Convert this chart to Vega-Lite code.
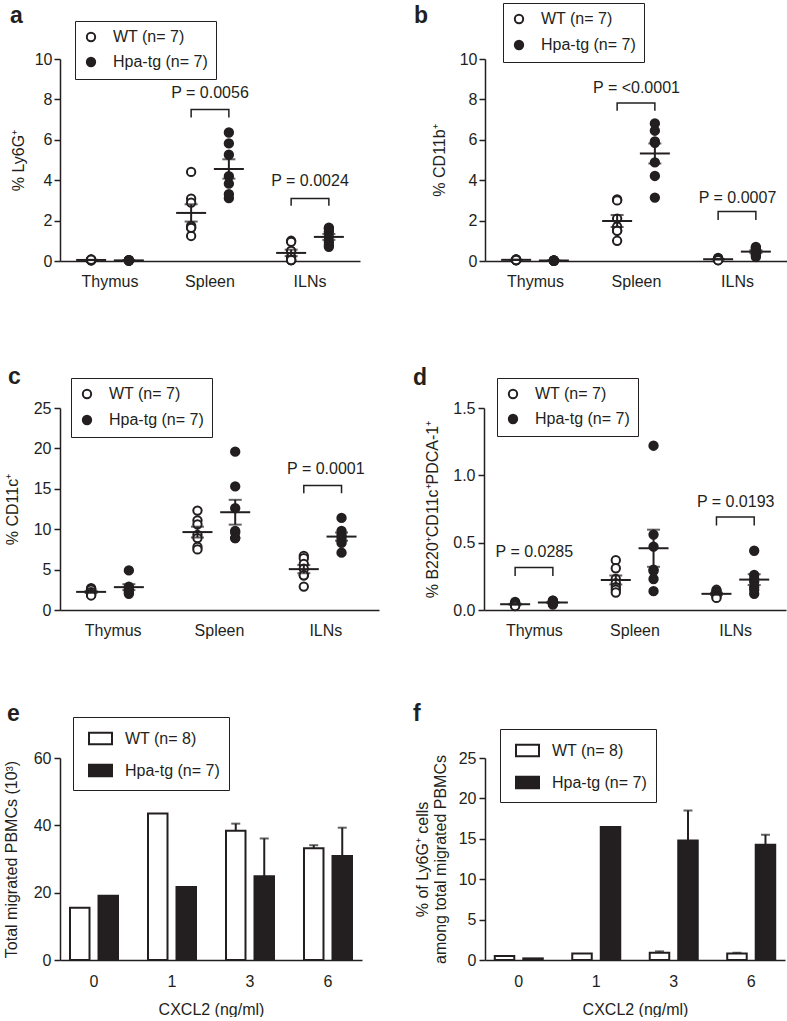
{
  "$schema": "https://vega.github.io/schema/vega-lite/v6.json",
  "background": "white",
  "padding": {"left": 3, "top": 2, "right": 0, "bottom": 0},
  "config": {
    "font": "Liberation Sans",
    "view": {"stroke": null},
    "axis": {"labelFont": "Liberation Sans", "titleFont": "Liberation Sans", "labelFontSize": 16, "titleFontSize": 16, "titleFontWeight": "normal", "labelColor": "#231f20", "titleColor": "#231f20", "domainColor": "#231f20", "tickColor": "#231f20", "domainWidth": 1.5, "tickWidth": 1.5, "grid": false},
    "axisX": {"ticks": false, "labelAngle": 0, "labelPadding": 12},
    "axisY": {"tickSize": 6, "labelPadding": 2},
    "legend": {"labelFont": "Liberation Sans", "labelFontSize": 16, "labelColor": "#231f20", "strokeColor": "#231f20", "symbolStrokeColor": "#231f20", "symbolStrokeWidth": 2, "title": null},
    "title": {"font": "Liberation Sans", "fontSize": 23, "fontWeight": "bold", "color": "#231f20", "anchor": "start", "frame": "group", "offset": 0},
    "text": {"font": "Liberation Sans"}
  },
  "datasets": {
    "a": [
      {"organ": "Thymus", "group": "WT", "value": 0.05}, {"organ": "Thymus", "group": "WT", "value": 0.06}, {"organ": "Thymus", "group": "WT", "value": 0.04}, {"organ": "Thymus", "group": "WT", "value": 0.07}, {"organ": "Thymus", "group": "WT", "value": 0.05}, {"organ": "Thymus", "group": "WT", "value": 0.03}, {"organ": "Thymus", "group": "WT", "value": 0.06},
      {"organ": "Thymus", "group": "Hpa-tg", "value": 0.03}, {"organ": "Thymus", "group": "Hpa-tg", "value": 0.04}, {"organ": "Thymus", "group": "Hpa-tg", "value": 0.02}, {"organ": "Thymus", "group": "Hpa-tg", "value": 0.03}, {"organ": "Thymus", "group": "Hpa-tg", "value": 0.04}, {"organ": "Thymus", "group": "Hpa-tg", "value": 0.03}, {"organ": "Thymus", "group": "Hpa-tg", "value": 0.02},
      {"organ": "Spleen", "group": "WT", "value": 4.41}, {"organ": "Spleen", "group": "WT", "value": 3.09}, {"organ": "Spleen", "group": "WT", "value": 2.89}, {"organ": "Spleen", "group": "WT", "value": 1.74}, {"organ": "Spleen", "group": "WT", "value": 1.65}, {"organ": "Spleen", "group": "WT", "value": 1.24}, {"organ": "Spleen", "group": "WT", "value": 1.64},
      {"organ": "Spleen", "group": "Hpa-tg", "value": 6.36}, {"organ": "Spleen", "group": "Hpa-tg", "value": 5.82}, {"organ": "Spleen", "group": "Hpa-tg", "value": 5.26}, {"organ": "Spleen", "group": "Hpa-tg", "value": 4.2}, {"organ": "Spleen", "group": "Hpa-tg", "value": 3.83}, {"organ": "Spleen", "group": "Hpa-tg", "value": 3.11}, {"organ": "Spleen", "group": "Hpa-tg", "value": 3.31},
      {"organ": "ILNs", "group": "WT", "value": 1.0}, {"organ": "ILNs", "group": "WT", "value": 0.95}, {"organ": "ILNs", "group": "WT", "value": 0.5}, {"organ": "ILNs", "group": "WT", "value": 0.2}, {"organ": "ILNs", "group": "WT", "value": 0.05}, {"organ": "ILNs", "group": "WT", "value": 0.05}, {"organ": "ILNs", "group": "WT", "value": 0.05},
      {"organ": "ILNs", "group": "Hpa-tg", "value": 1.65}, {"organ": "ILNs", "group": "Hpa-tg", "value": 1.6}, {"organ": "ILNs", "group": "Hpa-tg", "value": 1.45}, {"organ": "ILNs", "group": "Hpa-tg", "value": 1.2}, {"organ": "ILNs", "group": "Hpa-tg", "value": 0.95}, {"organ": "ILNs", "group": "Hpa-tg", "value": 0.8}, {"organ": "ILNs", "group": "Hpa-tg", "value": 0.7}
    ],
    "a_br": [
      {"organ": "Spleen", "group": "WT", "value": 7.1, "ord": 1}, {"organ": "Spleen", "group": "WT", "value": 7.5, "ord": 2}, {"organ": "Spleen", "group": "Hpa-tg", "value": 7.5, "ord": 3}, {"organ": "Spleen", "group": "Hpa-tg", "value": 7.1, "ord": 4},
      {"organ": "ILNs", "group": "WT", "value": 2.73, "ord": 1}, {"organ": "ILNs", "group": "WT", "value": 3.1, "ord": 2}, {"organ": "ILNs", "group": "Hpa-tg", "value": 3.1, "ord": 3}, {"organ": "ILNs", "group": "Hpa-tg", "value": 2.73, "ord": 4}
    ],
    "a_p": [{"organ": "Spleen", "value": 8.3, "label": "P = 0.0056"}, {"organ": "ILNs", "value": 3.97, "label": "P = 0.0024"}],
    "b": [
      {"organ": "Thymus", "group": "WT", "value": 0.06}, {"organ": "Thymus", "group": "WT", "value": 0.05}, {"organ": "Thymus", "group": "WT", "value": 0.08}, {"organ": "Thymus", "group": "WT", "value": 0.04}, {"organ": "Thymus", "group": "WT", "value": 0.05}, {"organ": "Thymus", "group": "WT", "value": 0.07}, {"organ": "Thymus", "group": "WT", "value": 0.05},
      {"organ": "Thymus", "group": "Hpa-tg", "value": 0.02}, {"organ": "Thymus", "group": "Hpa-tg", "value": 0.03}, {"organ": "Thymus", "group": "Hpa-tg", "value": 0.02}, {"organ": "Thymus", "group": "Hpa-tg", "value": 0.01}, {"organ": "Thymus", "group": "Hpa-tg", "value": 0.02}, {"organ": "Thymus", "group": "Hpa-tg", "value": 0.03}, {"organ": "Thymus", "group": "Hpa-tg", "value": 0.02},
      {"organ": "Spleen", "group": "WT", "value": 3.05}, {"organ": "Spleen", "group": "WT", "value": 3.0}, {"organ": "Spleen", "group": "WT", "value": 2.1}, {"organ": "Spleen", "group": "WT", "value": 1.7}, {"organ": "Spleen", "group": "WT", "value": 1.5}, {"organ": "Spleen", "group": "WT", "value": 1.5}, {"organ": "Spleen", "group": "WT", "value": 1.0},
      {"organ": "Spleen", "group": "Hpa-tg", "value": 6.81}, {"organ": "Spleen", "group": "Hpa-tg", "value": 6.45}, {"organ": "Spleen", "group": "Hpa-tg", "value": 5.92}, {"organ": "Spleen", "group": "Hpa-tg", "value": 5.85}, {"organ": "Spleen", "group": "Hpa-tg", "value": 4.88}, {"organ": "Spleen", "group": "Hpa-tg", "value": 4.21}, {"organ": "Spleen", "group": "Hpa-tg", "value": 3.14},
      {"organ": "ILNs", "group": "WT", "value": 0.15}, {"organ": "ILNs", "group": "WT", "value": 0.12}, {"organ": "ILNs", "group": "WT", "value": 0.1}, {"organ": "ILNs", "group": "WT", "value": 0.08}, {"organ": "ILNs", "group": "WT", "value": 0.07}, {"organ": "ILNs", "group": "WT", "value": 0.05}, {"organ": "ILNs", "group": "WT", "value": 0.04},
      {"organ": "ILNs", "group": "Hpa-tg", "value": 0.7}, {"organ": "ILNs", "group": "Hpa-tg", "value": 0.65}, {"organ": "ILNs", "group": "Hpa-tg", "value": 0.6}, {"organ": "ILNs", "group": "Hpa-tg", "value": 0.45}, {"organ": "ILNs", "group": "Hpa-tg", "value": 0.35}, {"organ": "ILNs", "group": "Hpa-tg", "value": 0.3}, {"organ": "ILNs", "group": "Hpa-tg", "value": 0.2}
    ],
    "b_br": [
      {"organ": "Spleen", "group": "WT", "value": 7.44, "ord": 1}, {"organ": "Spleen", "group": "WT", "value": 7.82, "ord": 2}, {"organ": "Spleen", "group": "Hpa-tg", "value": 7.82, "ord": 3}, {"organ": "Spleen", "group": "Hpa-tg", "value": 7.44, "ord": 4},
      {"organ": "ILNs", "group": "WT", "value": 2.03, "ord": 1}, {"organ": "ILNs", "group": "WT", "value": 2.45, "ord": 2}, {"organ": "ILNs", "group": "Hpa-tg", "value": 2.45, "ord": 3}, {"organ": "ILNs", "group": "Hpa-tg", "value": 2.03, "ord": 4}
    ],
    "b_p": [{"organ": "Spleen", "value": 8.56, "label": "P = <0.0001"}, {"organ": "ILNs", "value": 3.14, "label": "P = 0.0007"}],
    "c": [
      {"organ": "Thymus", "group": "WT", "value": 2.7}, {"organ": "Thymus", "group": "WT", "value": 2.6}, {"organ": "Thymus", "group": "WT", "value": 2.5}, {"organ": "Thymus", "group": "WT", "value": 2.2}, {"organ": "Thymus", "group": "WT", "value": 2.0}, {"organ": "Thymus", "group": "WT", "value": 1.9}, {"organ": "Thymus", "group": "WT", "value": 1.8},
      {"organ": "Thymus", "group": "Hpa-tg", "value": 4.9}, {"organ": "Thymus", "group": "Hpa-tg", "value": 2.9}, {"organ": "Thymus", "group": "Hpa-tg", "value": 2.8}, {"organ": "Thymus", "group": "Hpa-tg", "value": 2.6}, {"organ": "Thymus", "group": "Hpa-tg", "value": 2.4}, {"organ": "Thymus", "group": "Hpa-tg", "value": 2.2}, {"organ": "Thymus", "group": "Hpa-tg", "value": 2.0},
      {"organ": "Spleen", "group": "WT", "value": 12.3}, {"organ": "Spleen", "group": "WT", "value": 11.1}, {"organ": "Spleen", "group": "WT", "value": 10.6}, {"organ": "Spleen", "group": "WT", "value": 9.3}, {"organ": "Spleen", "group": "WT", "value": 8.9}, {"organ": "Spleen", "group": "WT", "value": 7.8}, {"organ": "Spleen", "group": "WT", "value": 7.5},
      {"organ": "Spleen", "group": "Hpa-tg", "value": 19.6}, {"organ": "Spleen", "group": "Hpa-tg", "value": 15.3}, {"organ": "Spleen", "group": "Hpa-tg", "value": 12.6}, {"organ": "Spleen", "group": "Hpa-tg", "value": 9.8}, {"organ": "Spleen", "group": "Hpa-tg", "value": 9.6}, {"organ": "Spleen", "group": "Hpa-tg", "value": 8.9}, {"organ": "Spleen", "group": "Hpa-tg", "value": 8.9},
      {"organ": "ILNs", "group": "WT", "value": 6.7}, {"organ": "ILNs", "group": "WT", "value": 6.4}, {"organ": "ILNs", "group": "WT", "value": 5.7}, {"organ": "ILNs", "group": "WT", "value": 5.1}, {"organ": "ILNs", "group": "WT", "value": 4.3}, {"organ": "ILNs", "group": "WT", "value": 4.3}, {"organ": "ILNs", "group": "WT", "value": 2.9},
      {"organ": "ILNs", "group": "Hpa-tg", "value": 11.4}, {"organ": "ILNs", "group": "Hpa-tg", "value": 9.8}, {"organ": "ILNs", "group": "Hpa-tg", "value": 9.4}, {"organ": "ILNs", "group": "Hpa-tg", "value": 9.0}, {"organ": "ILNs", "group": "Hpa-tg", "value": 8.6}, {"organ": "ILNs", "group": "Hpa-tg", "value": 8.3}, {"organ": "ILNs", "group": "Hpa-tg", "value": 7.1}
    ],
    "c_br": [
      {"organ": "ILNs", "group": "WT", "value": 14.46, "ord": 1}, {"organ": "ILNs", "group": "WT", "value": 15.4, "ord": 2}, {"organ": "ILNs", "group": "Hpa-tg", "value": 15.4, "ord": 3}, {"organ": "ILNs", "group": "Hpa-tg", "value": 14.46, "ord": 4}
    ],
    "c_p": [{"organ": "ILNs", "value": 17.5, "label": "P = 0.0001"}],
    "d": [
      {"organ": "Thymus", "group": "WT", "value": 0.06}, {"organ": "Thymus", "group": "WT", "value": 0.05}, {"organ": "Thymus", "group": "WT", "value": 0.05}, {"organ": "Thymus", "group": "WT", "value": 0.04}, {"organ": "Thymus", "group": "WT", "value": 0.04}, {"organ": "Thymus", "group": "WT", "value": 0.03}, {"organ": "Thymus", "group": "WT", "value": 0.03},
      {"organ": "Thymus", "group": "Hpa-tg", "value": 0.07}, {"organ": "Thymus", "group": "Hpa-tg", "value": 0.07}, {"organ": "Thymus", "group": "Hpa-tg", "value": 0.06}, {"organ": "Thymus", "group": "Hpa-tg", "value": 0.05}, {"organ": "Thymus", "group": "Hpa-tg", "value": 0.05}, {"organ": "Thymus", "group": "Hpa-tg", "value": 0.05}, {"organ": "Thymus", "group": "Hpa-tg", "value": 0.04},
      {"organ": "Spleen", "group": "WT", "value": 0.37}, {"organ": "Spleen", "group": "WT", "value": 0.31}, {"organ": "Spleen", "group": "WT", "value": 0.23}, {"organ": "Spleen", "group": "WT", "value": 0.2}, {"organ": "Spleen", "group": "WT", "value": 0.17}, {"organ": "Spleen", "group": "WT", "value": 0.15}, {"organ": "Spleen", "group": "WT", "value": 0.13},
      {"organ": "Spleen", "group": "Hpa-tg", "value": 1.22}, {"organ": "Spleen", "group": "Hpa-tg", "value": 0.56}, {"organ": "Spleen", "group": "Hpa-tg", "value": 0.47}, {"organ": "Spleen", "group": "Hpa-tg", "value": 0.3}, {"organ": "Spleen", "group": "Hpa-tg", "value": 0.29}, {"organ": "Spleen", "group": "Hpa-tg", "value": 0.23}, {"organ": "Spleen", "group": "Hpa-tg", "value": 0.14},
      {"organ": "ILNs", "group": "WT", "value": 0.15}, {"organ": "ILNs", "group": "WT", "value": 0.14}, {"organ": "ILNs", "group": "WT", "value": 0.13}, {"organ": "ILNs", "group": "WT", "value": 0.12}, {"organ": "ILNs", "group": "WT", "value": 0.11}, {"organ": "ILNs", "group": "WT", "value": 0.1}, {"organ": "ILNs", "group": "WT", "value": 0.09},
      {"organ": "ILNs", "group": "Hpa-tg", "value": 0.44}, {"organ": "ILNs", "group": "Hpa-tg", "value": 0.26}, {"organ": "ILNs", "group": "Hpa-tg", "value": 0.23}, {"organ": "ILNs", "group": "Hpa-tg", "value": 0.21}, {"organ": "ILNs", "group": "Hpa-tg", "value": 0.17}, {"organ": "ILNs", "group": "Hpa-tg", "value": 0.15}, {"organ": "ILNs", "group": "Hpa-tg", "value": 0.12}
    ],
    "d_br": [
      {"organ": "Thymus", "group": "WT", "value": 0.253, "ord": 1}, {"organ": "Thymus", "group": "WT", "value": 0.315, "ord": 2}, {"organ": "Thymus", "group": "Hpa-tg", "value": 0.315, "ord": 3}, {"organ": "Thymus", "group": "Hpa-tg", "value": 0.253, "ord": 4},
      {"organ": "ILNs", "group": "WT", "value": 0.627, "ord": 1}, {"organ": "ILNs", "group": "WT", "value": 0.69, "ord": 2}, {"organ": "ILNs", "group": "Hpa-tg", "value": 0.69, "ord": 3}, {"organ": "ILNs", "group": "Hpa-tg", "value": 0.627, "ord": 4}
    ],
    "d_p": [{"organ": "Thymus", "value": 0.43, "label": "P = 0.0285"}, {"organ": "ILNs", "value": 0.8, "label": "P = 0.0193"}],
    "e": [
      {"conc": "0", "group": "WT", "value": 15.5}, {"conc": "0", "group": "Hpa-tg", "value": 19.1},
      {"conc": "1", "group": "WT", "value": 43.5}, {"conc": "1", "group": "Hpa-tg", "value": 21.7},
      {"conc": "3", "group": "WT", "value": 38.4, "upper": 40.5}, {"conc": "3", "group": "Hpa-tg", "value": 24.9, "upper": 36.1},
      {"conc": "6", "group": "WT", "value": 33.2, "upper": 34.1}, {"conc": "6", "group": "Hpa-tg", "value": 30.9, "upper": 39.3}
    ],
    "f": [
      {"conc": "0", "group": "WT", "value": 0.5}, {"conc": "0", "group": "Hpa-tg", "value": 0.2},
      {"conc": "1", "group": "WT", "value": 0.8}, {"conc": "1", "group": "Hpa-tg", "value": 16.45},
      {"conc": "3", "group": "WT", "value": 0.9, "upper": 1.07}, {"conc": "3", "group": "Hpa-tg", "value": 14.8, "upper": 18.5},
      {"conc": "6", "group": "WT", "value": 0.8, "upper": 0.9}, {"conc": "6", "group": "Hpa-tg", "value": 14.26, "upper": 15.5}
    ]
  },
  "spacing": 64,
  "resolve": {"scale": {"fill": "independent"}, "legend": {"fill": "independent"}},
  "vconcat": [
    {
      "spacing": 76,
      "resolve": {"scale": {"fill": "independent"}, "legend": {"fill": "independent"}},
      "vconcat": [
        {
          "hconcat": [
            {
              "width": 300, "height": 202,
              "title": {"text": "a", "dx": -50, "dy": 11},
              "data": {"name": "a"},
              "encoding": {
                "x": {"field": "organ", "type": "nominal", "sort": ["Thymus", "Spleen", "ILNs"], "scale": {"paddingInner": 0, "paddingOuter": 0}, "axis": {"title": null}},
                "y": {"field": "value", "type": "quantitative", "title": "% Ly6G⁺", "scale": {"domain": [0, 10], "nice": false}, "axis": {"values": [0, 2, 4, 6, 8, 10], "titlePadding": 8}}
              },
              "layer": [
                {"mark": {"type": "point", "shape": "circle", "size": 70, "strokeWidth": 2, "stroke": "#231f20", "filled": true, "opacity": 1},
                 "encoding": {"xOffset": {"field": "group", "type": "nominal", "scale": {"domain": ["WT", "Hpa-tg"], "paddingInner": 0.65, "paddingOuter": 0.65}},
                  "fill": {"field": "group", "type": "nominal", "scale": {"domain": ["WT", "Hpa-tg"], "range": ["white", "#231f20"]}, "legend": {"orient": "none", "legendX": 15, "legendY": -38, "padding": 8, "rowPadding": 7, "labelOffset": 14, "symbolSize": 70, "symbolType": "circle", "labelExpr": "datum.label == 'WT' ? 'WT (n= 7)' : 'Hpa-tg (n= 7)'"}}}},
                {"mark": {"type": "errorbar", "extent": "stderr", "ticks": true, "size": 13, "thickness": 2, "color": "#231f20"},
                 "encoding": {"xOffset": {"field": "group", "type": "nominal"}}},
                {"mark": {"type": "tick", "size": 30, "thickness": 2, "color": "#231f20", "orient": "horizontal"},
                 "encoding": {"xOffset": {"field": "group", "type": "nominal"}, "y": {"aggregate": "mean", "field": "value", "type": "quantitative", "title": "% Ly6G⁺"}}},
                {"data": {"name": "a_br"}, "mark": {"type": "line", "color": "#231f20", "strokeWidth": 1.5},
                 "encoding": {"xOffset": {"field": "group", "type": "nominal"}, "order": {"field": "ord", "type": "quantitative"}, "detail": {"field": "organ", "type": "nominal"}}},
                {"data": {"name": "a_p"}, "mark": {"type": "text", "fontSize": 16, "color": "#231f20", "baseline": "middle", "align": "center"},
                 "encoding": {"text": {"field": "label", "type": "nominal"}}}
              ]
            },
            {
              "width": 303, "height": 202,
              "title": {"text": "b", "dx": -71, "dy": 29},
              "data": {"name": "b"},
              "encoding": {
                "x": {"field": "organ", "type": "nominal", "sort": ["Thymus", "Spleen", "ILNs"], "scale": {"paddingInner": 0, "paddingOuter": 0}, "axis": {"title": null}},
                "y": {"field": "value", "type": "quantitative", "title": "% CD11b⁺", "scale": {"domain": [0, 10], "nice": false}, "axis": {"values": [0, 2, 4, 6, 8, 10], "titlePadding": 12}}
              },
              "layer": [
                {"mark": {"type": "point", "shape": "circle", "size": 70, "strokeWidth": 2, "stroke": "#231f20", "filled": true, "opacity": 1},
                 "encoding": {"xOffset": {"field": "group", "type": "nominal", "scale": {"domain": ["WT", "Hpa-tg"], "paddingInner": 0.65, "paddingOuter": 0.65}},
                  "fill": {"field": "group", "type": "nominal", "scale": {"domain": ["WT", "Hpa-tg"], "range": ["white", "#231f20"]}, "legend": {"orient": "none", "legendX": 18, "legendY": -56, "padding": 8, "rowPadding": 8, "labelOffset": 14, "symbolSize": 70, "symbolType": "circle", "labelExpr": "datum.label == 'WT' ? 'WT (n= 7)' : 'Hpa-tg (n= 7)'"}}}},
                {"mark": {"type": "errorbar", "extent": "stderr", "ticks": true, "size": 13, "thickness": 2, "color": "#231f20"},
                 "encoding": {"xOffset": {"field": "group", "type": "nominal"}}},
                {"mark": {"type": "tick", "size": 30, "thickness": 2, "color": "#231f20", "orient": "horizontal"},
                 "encoding": {"xOffset": {"field": "group", "type": "nominal"}, "y": {"aggregate": "mean", "field": "value", "type": "quantitative", "title": "% CD11b⁺"}}},
                {"data": {"name": "b_br"}, "mark": {"type": "line", "color": "#231f20", "strokeWidth": 1.5},
                 "encoding": {"xOffset": {"field": "group", "type": "nominal"}, "order": {"field": "ord", "type": "quantitative"}, "detail": {"field": "organ", "type": "nominal"}}},
                {"data": {"name": "b_p"}, "mark": {"type": "text", "fontSize": 16, "color": "#231f20", "baseline": "middle", "align": "center"},
                 "encoding": {"text": {"field": "label", "type": "nominal"}}}
              ]
            }
          ],
          "spacing": 125, "bounds": "flush",
          "resolve": {"scale": {"fill": "independent"}, "legend": {"fill": "independent"}}
        },
        {
          "hconcat": [
            {
              "width": 319, "height": 202,
              "title": {"text": "c", "dx": -52, "dy": 15},
              "data": {"name": "c"},
              "encoding": {
                "x": {"field": "organ", "type": "nominal", "sort": ["Thymus", "Spleen", "ILNs"], "scale": {"paddingInner": 0, "paddingOuter": 0}, "axis": {"title": null}},
                "y": {"field": "value", "type": "quantitative", "title": "% CD11c⁺", "scale": {"domain": [0, 25], "nice": false}, "axis": {"values": [0, 5, 10, 15, 20, 25], "titlePadding": 13, "labelPadding": 3}}
              },
              "layer": [
                {"mark": {"type": "point", "shape": "circle", "size": 70, "strokeWidth": 2, "stroke": "#231f20", "filled": true, "opacity": 1},
                 "encoding": {"xOffset": {"field": "group", "type": "nominal", "scale": {"domain": ["WT", "Hpa-tg"], "paddingInner": 0.65, "paddingOuter": 0.65}},
                  "fill": {"field": "group", "type": "nominal", "scale": {"domain": ["WT", "Hpa-tg"], "range": ["white", "#231f20"]}, "legend": {"orient": "none", "legendX": 11, "legendY": -30, "padding": 8, "rowPadding": 8, "labelOffset": 14, "symbolSize": 70, "symbolType": "circle", "labelExpr": "datum.label == 'WT' ? 'WT (n= 7)' : 'Hpa-tg (n= 7)'"}}}},
                {"mark": {"type": "errorbar", "extent": "stderr", "ticks": true, "size": 13, "thickness": 2, "color": "#231f20"},
                 "encoding": {"xOffset": {"field": "group", "type": "nominal"}}},
                {"mark": {"type": "tick", "size": 30, "thickness": 2, "color": "#231f20", "orient": "horizontal"},
                 "encoding": {"xOffset": {"field": "group", "type": "nominal"}, "y": {"aggregate": "mean", "field": "value", "type": "quantitative", "title": "% CD11c⁺"}}},
                {"data": {"name": "c_br"}, "mark": {"type": "line", "color": "#231f20", "strokeWidth": 1.5},
                 "encoding": {"xOffset": {"field": "group", "type": "nominal"}, "order": {"field": "ord", "type": "quantitative"}, "detail": {"field": "organ", "type": "nominal"}}},
                {"data": {"name": "c_p"}, "mark": {"type": "text", "fontSize": 16, "color": "#231f20", "baseline": "middle", "align": "center"},
                 "encoding": {"text": {"field": "label", "type": "nominal"}}}
              ]
            },
            {
              "width": 302, "height": 202,
              "title": {"text": "d", "dx": -71, "dy": 16},
              "data": {"name": "d"},
              "encoding": {
                "x": {"field": "organ", "type": "nominal", "sort": ["Thymus", "Spleen", "ILNs"], "scale": {"paddingInner": 0, "paddingOuter": 0}, "axis": {"title": null}},
                "y": {"field": "value", "type": "quantitative", "title": "% B220⁺CD11c⁺PDCA-1⁺", "scale": {"domain": [0, 1.5], "nice": false}, "axis": {"values": [0, 0.5, 1, 1.5], "format": ".1f", "titlePadding": 12, "labelPadding": 3}}
              },
              "layer": [
                {"mark": {"type": "point", "shape": "circle", "size": 70, "strokeWidth": 2, "stroke": "#231f20", "filled": true, "opacity": 1},
                 "encoding": {"xOffset": {"field": "group", "type": "nominal", "scale": {"domain": ["WT", "Hpa-tg"], "paddingInner": 0.65, "paddingOuter": 0.65}},
                  "fill": {"field": "group", "type": "nominal", "scale": {"domain": ["WT", "Hpa-tg"], "range": ["white", "#231f20"]}, "legend": {"orient": "none", "legendX": 13, "legendY": -30, "padding": 8, "rowPadding": 7, "labelOffset": 14, "symbolSize": 70, "symbolType": "circle", "labelExpr": "datum.label == 'WT' ? 'WT (n= 7)' : 'Hpa-tg (n= 7)'"}}}},
                {"mark": {"type": "errorbar", "extent": "stderr", "ticks": true, "size": 13, "thickness": 2, "color": "#231f20"},
                 "encoding": {"xOffset": {"field": "group", "type": "nominal"}}},
                {"mark": {"type": "tick", "size": 30, "thickness": 2, "color": "#231f20", "orient": "horizontal"},
                 "encoding": {"xOffset": {"field": "group", "type": "nominal"}, "y": {"aggregate": "mean", "field": "value", "type": "quantitative", "title": "% B220⁺CD11c⁺PDCA-1⁺"}}},
                {"data": {"name": "d_br"}, "mark": {"type": "line", "color": "#231f20", "strokeWidth": 1.5},
                 "encoding": {"xOffset": {"field": "group", "type": "nominal"}, "order": {"field": "ord", "type": "quantitative"}, "detail": {"field": "organ", "type": "nominal"}}},
                {"data": {"name": "d_p"}, "mark": {"type": "text", "fontSize": 16, "color": "#231f20", "baseline": "middle", "align": "center"},
                 "encoding": {"text": {"field": "label", "type": "nominal"}}}
              ]
            }
          ],
          "spacing": 105, "bounds": "flush",
          "resolve": {"scale": {"fill": "independent"}, "legend": {"fill": "independent"}}
        }
      ]
    },
    {
      "hconcat": [
        {
          "width": 302, "height": 202,
          "title": {"text": "e", "dx": -53, "dy": 13},
          "data": {"name": "e"},
          "encoding": {
            "x": {"field": "conc", "type": "nominal", "sort": ["0", "1", "3", "6"], "scale": {"paddingInner": 0.2, "paddingOuter": 0.036}, "axis": {"title": "CXCL2 (ng/ml)", "labelPadding": 13, "titlePadding": 12}},
            "y": {"field": "value", "type": "quantitative", "title": "Total migrated PBMCs (10³)", "scale": {"domain": [0, 60], "nice": false}, "axis": {"values": [0, 20, 40, 60], "titlePadding": 14, "labelPadding": 3}}
          },
          "layer": [
            {"transform": [{"filter": "datum.group == 'WT'"}],
             "mark": {"type": "bar", "stroke": "#231f20", "strokeWidth": 2, "width": 19.5, "xOffset": -14.25},
             "encoding": {"fill": {"field": "group", "type": "nominal", "scale": {"domain": ["WT", "Hpa-tg"], "range": ["white", "#231f20"]}, "legend": {"orient": "none", "legendX": 13, "legendY": -41, "padding": 9, "rowPadding": 9, "labelOffset": 12, "symbolOffset": 6, "symbolSize": 529, "symbolType": "M-1,-0.5H1V0.5H-1Z", "labelExpr": "datum.label == 'WT' ? 'WT (n= 8)' : 'Hpa-tg (n= 7)'"}}}},
            {"transform": [{"filter": "datum.group == 'Hpa-tg'"}],
             "mark": {"type": "bar", "stroke": "#231f20", "strokeWidth": 2, "width": 19.5, "xOffset": 14.25},
             "encoding": {"fill": {"field": "group", "type": "nominal", "scale": {"domain": ["WT", "Hpa-tg"], "range": ["white", "#231f20"]}, "legend": {"orient": "none", "legendX": 13, "legendY": -41, "padding": 9, "rowPadding": 9, "labelOffset": 12, "symbolOffset": 6, "symbolSize": 529, "symbolType": "M-1,-0.5H1V0.5H-1Z", "labelExpr": "datum.label == 'WT' ? 'WT (n= 8)' : 'Hpa-tg (n= 7)'"}}}},
            {"transform": [{"filter": "datum.group == 'WT' && isValid(datum.upper)"}],
             "mark": {"type": "rule", "strokeWidth": 2, "color": "#231f20", "xOffset": -14.25},
             "encoding": {"y2": {"field": "upper"}}},
            {"transform": [{"filter": "datum.group == 'Hpa-tg' && isValid(datum.upper)"}],
             "mark": {"type": "rule", "strokeWidth": 2, "color": "#231f20", "xOffset": 14.25},
             "encoding": {"y2": {"field": "upper"}}},
            {"transform": [{"filter": "datum.group == 'WT' && isValid(datum.upper)"}],
             "mark": {"type": "tick", "size": 9, "thickness": 2, "color": "#231f20", "orient": "horizontal", "xOffset": -14.25},
             "encoding": {"y": {"field": "upper", "type": "quantitative", "title": "Total migrated PBMCs (10³)"}}},
            {"transform": [{"filter": "datum.group == 'Hpa-tg' && isValid(datum.upper)"}],
             "mark": {"type": "tick", "size": 9, "thickness": 2, "color": "#231f20", "orient": "horizontal", "xOffset": 14.25},
             "encoding": {"y": {"field": "upper", "type": "quantitative", "title": "Total migrated PBMCs (10³)"}}}
          ]
        },
        {
          "width": 300, "height": 202,
          "title": {"text": "f", "dx": -72, "dy": 1},
          "data": {"name": "f"},
          "encoding": {
            "x": {"field": "conc", "type": "nominal", "sort": ["0", "1", "3", "6"], "scale": {"paddingInner": 0.2, "paddingOuter": 0.036}, "axis": {"title": "CXCL2 (ng/ml)", "labelPadding": 13, "titlePadding": 12}},
            "y": {"field": "value", "type": "quantitative", "title": ["% of Ly6G⁺ cells", "among total migrated PBMCs"], "scale": {"domain": [0, 25], "nice": false}, "axis": {"values": [0, 5, 10, 15, 20, 25], "titlePadding": 10, "labelPadding": 3}}
          },
          "layer": [
            {"transform": [{"filter": "datum.group == 'WT'"}],
             "mark": {"type": "bar", "stroke": "#231f20", "strokeWidth": 2, "width": 19.5, "xOffset": -14.25},
             "encoding": {"fill": {"field": "group", "type": "nominal", "scale": {"domain": ["WT", "Hpa-tg"], "range": ["white", "#231f20"]}, "legend": {"orient": "none", "legendX": 15, "legendY": -29, "padding": 9, "rowPadding": 9, "labelOffset": 12, "symbolOffset": 6, "symbolSize": 529, "symbolType": "M-1,-0.5H1V0.5H-1Z", "labelExpr": "datum.label == 'WT' ? 'WT (n= 8)' : 'Hpa-tg (n= 7)'"}}}},
            {"transform": [{"filter": "datum.group == 'Hpa-tg'"}],
             "mark": {"type": "bar", "stroke": "#231f20", "strokeWidth": 2, "width": 19.5, "xOffset": 14.25},
             "encoding": {"fill": {"field": "group", "type": "nominal", "scale": {"domain": ["WT", "Hpa-tg"], "range": ["white", "#231f20"]}, "legend": {"orient": "none", "legendX": 15, "legendY": -29, "padding": 9, "rowPadding": 9, "labelOffset": 12, "symbolOffset": 6, "symbolSize": 529, "symbolType": "M-1,-0.5H1V0.5H-1Z", "labelExpr": "datum.label == 'WT' ? 'WT (n= 8)' : 'Hpa-tg (n= 7)'"}}}},
            {"transform": [{"filter": "datum.group == 'WT' && isValid(datum.upper)"}],
             "mark": {"type": "rule", "strokeWidth": 2, "color": "#231f20", "xOffset": -14.25},
             "encoding": {"y2": {"field": "upper"}}},
            {"transform": [{"filter": "datum.group == 'Hpa-tg' && isValid(datum.upper)"}],
             "mark": {"type": "rule", "strokeWidth": 2, "color": "#231f20", "xOffset": 14.25},
             "encoding": {"y2": {"field": "upper"}}},
            {"transform": [{"filter": "datum.group == 'WT' && isValid(datum.upper)"}],
             "mark": {"type": "tick", "size": 9, "thickness": 2, "color": "#231f20", "orient": "horizontal", "xOffset": -14.25},
             "encoding": {"y": {"field": "upper", "type": "quantitative", "title": ["% of Ly6G⁺ cells", "among total migrated PBMCs"]}}},
            {"transform": [{"filter": "datum.group == 'Hpa-tg' && isValid(datum.upper)"}],
             "mark": {"type": "tick", "size": 9, "thickness": 2, "color": "#231f20", "orient": "horizontal", "xOffset": 14.25},
             "encoding": {"y": {"field": "upper", "type": "quantitative", "title": ["% of Ly6G⁺ cells", "among total migrated PBMCs"]}}}
          ]
        }
      ],
      "spacing": 123, "bounds": "flush",
      "resolve": {"scale": {"fill": "independent"}, "legend": {"fill": "independent"}}
    }
  ]
}
